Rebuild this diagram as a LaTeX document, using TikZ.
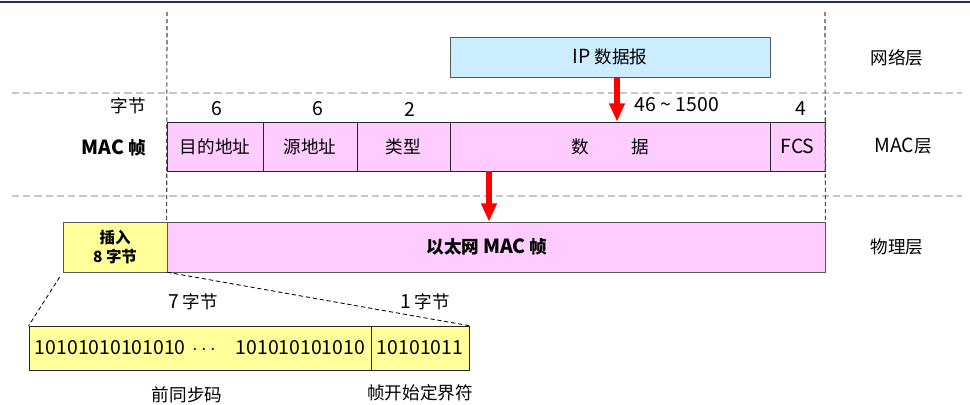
\documentclass[tikz,border=0pt]{standalone}
\usepackage{fontspec}
\setmainfont{Noto Sans CJK SC}
\usepackage{xcolor}
\usepackage{tikz}
\usetikzlibrary{arrows.meta, positioning}

\definecolor{macpink}{RGB}{255,204,255}
\definecolor{ipblue}{RGB}{204,236,255}
\definecolor{preyellow}{RGB}{255,255,153}
\definecolor{edgegray}{RGB}{89,89,89}
\definecolor{titlenavy}{RGB}{31,45,90}

\newcommand{\lat}[1]{{\fontsize{13.8}{16}\selectfont #1}}

\tikzset{
  field/.style={draw=black!85, fill=macpink, inner sep=0pt, minimum height=1.225cm},
  barbox/.style={draw=edgegray, inner sep=0pt, minimum height=1.25cm},
  bitbox/.style={draw=black!85, fill=preyellow, inner sep=0pt, minimum height=1.1cm},
  digits/.style={font=\fontsize{13.8}{16}\selectfont},
  downarrow/.style={draw=red, line width=4.5pt, -{Triangle[length=13pt,width=10.5pt]}},
  sepline/.style={draw=black!22, line width=1pt, dash pattern=on 5pt off 3pt},
  guideline/.style={draw=black!70, line width=0.8pt, dash pattern=on 3pt off 2pt},
  zoomline/.style={draw=black, line width=0.6pt, dash pattern=on 3pt off 2pt}
}

\begin{document}
\begin{tikzpicture}[x=0.025cm, y=-0.025cm, font=\fontsize{12.5}{15}\selectfont]
  \useasboundingbox (0,0) rectangle (970,405);
  \draw[titlenavy, line width=2pt] (0,2) -- (970,2);

  % layer separators
  \draw[sepline] (12,93) -- (962,93);
  \draw[sepline] (12,196) -- (962,196);

  % network layer
  \node[draw=edgegray, fill=ipblue, inner sep=0pt, minimum width=8cm, minimum height=1cm] (ip) at (610,57) {\lat{IP} 数据报};

  % MAC frame
  \foreach \n/\cx/\w/\t in {dst/215/2.4/目的地址, src/310/2.35/源地址, typ/403.5/2.325/类型, dat/610/8/数\hspace{2.4em}据, fcs/797.5/1.375/\lat{FCS}} {
    \node[field, minimum width=\w cm] (\n) at (\cx,146.5) {\t};
  }
  \foreach \cx/\cy/\t [count=\k] in {217/109/6, 318/109/6, 410/109/2, 677/105/46 \textasciitilde{} 1500, 801/109/4} {
    \node[digits] (len\k) at (\cx,\cy) {\t};
  }
  \node[anchor=east] (unit) at (151,106) {字节};
  \node[anchor=east, font=\fontsize{12.5}{15}\selectfont\bfseries] (mac) at (151,148) {\lat{MAC} 帧};

  % physical layer
  \node[barbox, fill=preyellow, minimum width=2.6cm, align=center, font=\fontsize{11}{13.5}\selectfont\bfseries] (ins) at (115,247) {插入\\8 字节};
  \node[barbox, fill=macpink, minimum width=16.45cm, font=\fontsize{12.5}{15}\selectfont\bfseries] (eth) at (496,247) {\hspace*{-0.45cm}以太网 \lat{MAC} 帧};

  % layer names
  \node (net) at (897,58) {网络层};
  \node (link) at (903,146) {\lat{MAC}层};
  \node (phy) at (897,247) {物理层};

  % guides
  \coordinate (gl) at (167,12);
  \coordinate (gr) at (825,12);
  \draw[guideline] (gl) -- (eth.north west);
  \draw[guideline] (gr) -- (eth.north east);

  % arrows
  \coordinate (a1) at (617,0);
  \coordinate (a2) at (489,0);
  \draw[downarrow] (ip.south -| a1) -- (dat.north -| a1);
  \draw[downarrow] (dat.south -| a2) -- (eth.north -| a2);

  % preamble detail
  \node[bitbox, digits, minimum width=8.55cm, text width=8.25cm, inner xsep=0.15cm] (pre) at (200,348) {10101010101010 $\cdots$\hfill 101010101010};
  \node[bitbox, digits, minimum width=2.45cm] (sfd) at (420,348) {10101011};
  \draw[zoomline, shorten <=4pt] (ins.south west) -- (pre.north west);
  \draw[zoomline] (ins.south east) -- (sfd.north east);

  \node (len7) at (193,302) {\lat{7} 字节};
  \node (len1) at (425,302) {\lat{1} 字节};
  \node (prename) at (187,395) {前同步码};
  \node (sfdname) at (420,393) {帧开始定界符};
\end{tikzpicture}
\end{document}
